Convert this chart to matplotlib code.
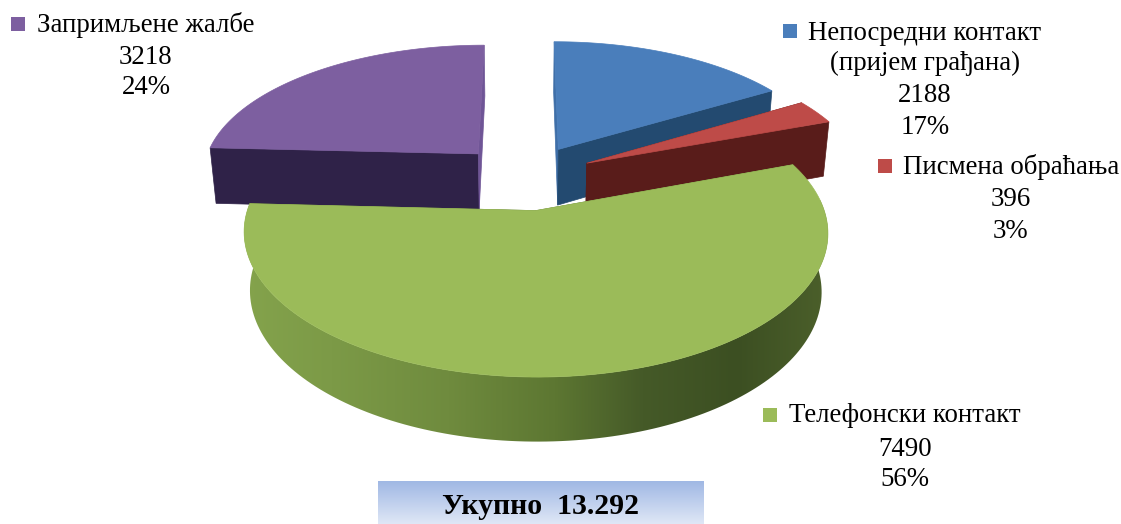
import numpy as np
import matplotlib
matplotlib.use("Agg")
import matplotlib.pyplot as plt
from matplotlib.colors import LinearSegmentedColormap
from matplotlib.patches import Rectangle, Polygon

categories = ["Непосредни контакт\n(пријем грађана)", "Писмена обраћања", "Телефонски контакт", "Запримљене жалбе"]
values = [2188, 396, 7490, 3218]
percents = ["17%", "3%", "56%", "24%"]
total_label = "Укупно  13.292"

top_colors = ["#4a7ebb", "#be4b48", "#9bbb59", "#7d5fa0"]
start_face = ["#3f6fa8", "#591c1a", "#5f7a38", "#2f2248"]
end_face = ["#234a70", "#591c1a", "#5f7a38", "#6f5596"]

plt.rcParams["font.family"] = ["Liberation Serif", "DejaVu Serif"]
W, H = 1121, 524
fig = plt.figure(figsize=(W / 100, H / 100), dpi=100)
ax = fig.add_axes([0, 0, 1, 1])

XC, YC, A, B, C, K, M, EXPLODE = 525, 177, 278, 131, 58, 0.147, 0.02, 0.25


def project(x, y, z):
    w = 1 + K * y - M * z
    return XC + A * x / w, YC - (B * y + C * z) / w


def face(x, y, z):
    return np.column_stack(project(np.asarray(x, float), np.asarray(y, float), np.asarray(z, float)))


rim_t = [0.0, 0.15, 0.35, 0.53, 0.68, 0.84, 1.0]
rim_c = ["#84a34c", "#7c9a47", "#6f8b3e", "#5d7732", "#455a28", "#3c4f22", "#4c602b"]
green_rim = LinearSegmentedColormap.from_list("rim", list(zip(rim_t, rim_c)))

total = sum(values)
edges = np.concatenate([[0], np.cumsum(values)]) / total * 2 * np.pi
order = [3, 0, 1, 2]  # back to front
for i in order:
    base = order.index(i) + 1
    a0, a1 = edges[i], edges[i + 1]
    mid = (a0 + a1) / 2
    ox, oy = EXPLODE * np.sin(mid), EXPLODE * np.cos(mid)
    t = np.linspace(a0, a1, 160)
    rx, ry = ox + np.sin(t), oy + np.cos(t)
    # radial cut faces
    for ang, col in ((a0, start_face[i]), (a1, end_face[i])):
        ex, ey = ox + np.sin(ang), oy + np.cos(ang)
        ax.fill(*face([ox, ex, ex, ox], [oy, ey, ey, oy], [0, 0, -1, -1]).T,
                color=col, lw=0.5, zorder=base)
    # outer rim: only the front slice shows it
    if i == 2:
        rim = np.vstack([face(rx, ry, np.zeros_like(rx)), face(rx[::-1], ry[::-1], -np.ones_like(rx))])
        patch = Polygon(rim, closed=True, fc="none", ec="none", transform=ax.transData)
        ax.add_patch(patch)
        im = ax.imshow(np.linspace(0, 1, 256)[None, :], cmap=green_rim, extent=(243, 831, 445, 200),
                       aspect="auto", zorder=base + 0.2)
        im.set_clip_path(patch)
    # top face
    ax.fill(*face(np.r_[ox, rx], np.r_[oy, ry], np.zeros(len(rx) + 1)).T,
            color=top_colors[i], lw=0.5, zorder=base + 0.4)

label_spec = [
    (783, 24, [(925, 33, categories[0].split("\n")[0]), (925, 63, categories[0].split("\n")[1]),
               (925, 96, str(values[0])), (925, 127, percents[0])]),
    (878, 159, [(1011, 167, categories[1]), (1011, 200, str(values[1])), (1011, 231, percents[1])]),
    (763, 408, [(905, 416, categories[2]), (905, 449, str(values[2])), (905, 479, percents[2])]),
    (11, 17, [(146, 25, categories[3]), (146, 58, str(values[3])), (146, 87, percents[3])]),
]
for i, (mx, my, lines) in enumerate(label_spec):
    ax.add_patch(Rectangle((mx, my), 14, 14, fc=top_colors[i], ec="none", zorder=10))
    for tx, ty, s in lines:
        ax.text(tx, ty, s, ha="center", va="center", fontsize=19.4, color="black", zorder=11)

grad = LinearSegmentedColormap.from_list("box", ["#a0b8e4", "#dfe7f6"])
ax.imshow(np.linspace(0, 1, 64)[:, None], cmap=grad, extent=(378, 704, 524, 481),
          aspect="auto", zorder=5, interpolation="bilinear")
ax.text(541, 507, total_label, ha="center", va="center", fontsize=21.4, fontweight="bold", color="black", zorder=11)

ax.set_xlim(0, W)
ax.set_ylim(H, 0)
ax.axis("off")
fig.savefig("out.png", dpi=100, facecolor="white")
